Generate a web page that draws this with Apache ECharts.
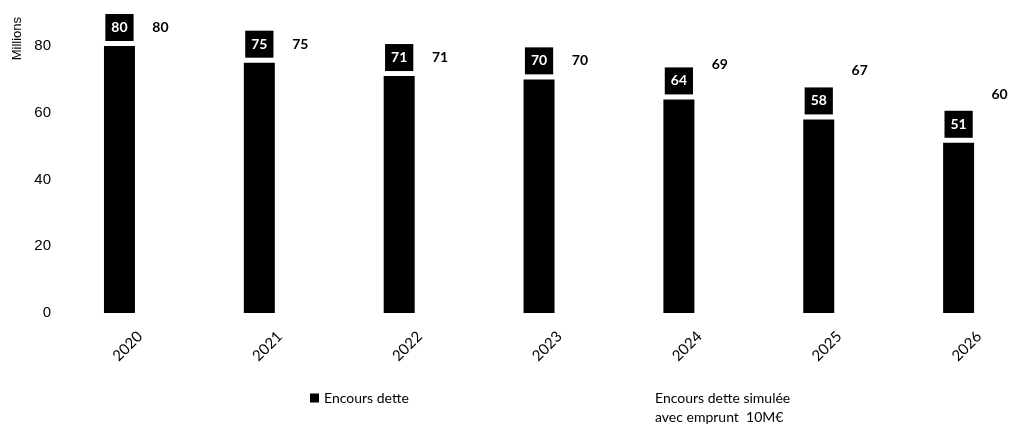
<!DOCTYPE html>
<html>
<head>
<meta charset="utf-8">
<script src="https://cdn.jsdelivr.net/npm/echarts@6/dist/echarts.min.js"></script>
<style>
  html, body { margin: 0; padding: 0; background: #fff; }
  #chart { width: 1012px; height: 427px; }
</style>
</head>
<body>
<div id="chart"></div>
<script>
var years = ['2020', '2021', '2022', '2023', '2024', '2025', '2026'];
var encoursDette = [80, 75, 71, 70, 64, 58, 51];
var encoursSimule = [80, 75, 71, 70, 69, 67, 60];
var yTicks = { min: 0, max: 80, interval: 20 };

var dom = document.getElementById('chart');
var myChart = echarts.init(dom);

var option = {
    backgroundColor: '#fff',
    animation: false,
    grid: {
        left: 70,
        right: -37,
        top: 46,
        bottom: 114,
        outerBoundsMode: 'none'
    },
    legend: [
        {
            left: 305,
            top: 386,
            itemWidth: 9,
            itemHeight: 9,
            itemGap: 10,
            icon: 'rect',
            data: ['Encours dette'],
            textStyle: { fontFamily: 'Lato', fontSize: 14, color: '#000' }
        },
        {
            left: 636,
            top: 384,
            itemWidth: 9,
            itemHeight: 9,
            icon: 'rect',
            data: ['Encours dette simulée\navec emprunt  10M€'],
            textStyle: { fontFamily: 'Lato', fontSize: 14, color: '#000', lineHeight: 19 }
        }
    ],
    graphic: [
        {
            type: 'text',
            left: 11,
            top: 17,
            rotation: Math.PI / 2,
            style: {
                text: 'Millions',
                font: '13px "Liberation Sans Narrow", Arial',
                fill: '#000'
            }
        }
    ],
    xAxis: {
        type: 'category',
        data: years,
        axisLine: { show: false },
        axisTick: { show: false },
        axisLabel: {
            rotate: 45,
            margin: 21,
            fontFamily: 'Lato',
            fontSize: 15,
            color: '#000'
        }
    },
    yAxis: {
        type: 'value',
        min: yTicks.min,
        max: yTicks.max,
        interval: yTicks.interval,
        splitLine: { show: false },
        axisLine: { show: false },
        axisTick: { show: false },
        axisLabel: {
            margin: 19,
            fontFamily: 'Arial',
            fontSize: 15,
            color: '#000'
        }
    },
    series: [
        {
            name: 'Encours dette',
            type: 'bar',
            barWidth: 31,
            barGap: '32%',
            itemStyle: { color: '#000' },
            label: {
                show: true,
                position: 'top',
                distance: 5,
                backgroundColor: '#000',
                color: '#fff',
                fontFamily: 'Lato',
                fontWeight: 'bold',
                fontSize: 14,
                lineHeight: 15,
                padding: [6, 6]
            },
            data: encoursDette
        },
        {
            name: 'Encours dette simulée\navec emprunt  10M€',
            type: 'bar',
            barWidth: 31,
            itemStyle: { color: '#fff' },
            label: {
                show: true,
                position: 'top',
                distance: 5,
                color: '#000',
                fontFamily: 'Lato',
                fontWeight: 'bold',
                fontSize: 14,
                lineHeight: 15,
                padding: [6, 6]
            },
            data: encoursSimule
        }
    ]
};

if (option && typeof option === 'object') {
    myChart.setOption(option);
}
</script>
</body>
</html>
